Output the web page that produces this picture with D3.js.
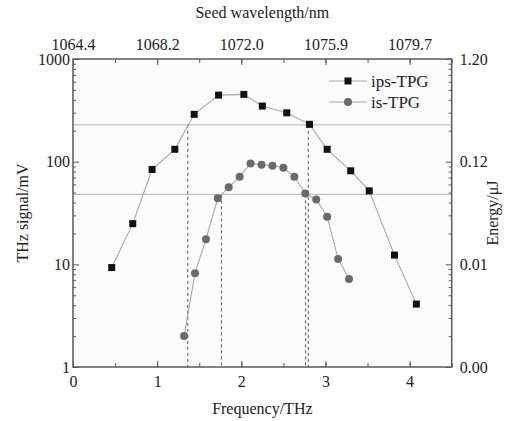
<!DOCTYPE html>
<html>
<head>
<meta charset="utf-8">
<script src="https://cdn.jsdelivr.net/npm/d3@7/dist/d3.min.js"></script>
<style>
  html, body { margin: 0; padding: 0; background: #fff; }
  svg text { font-family: "Liberation Serif", "DejaVu Serif", serif; fill: #222; }
</style>
</head>
<body>
<svg id="chart" width="522" height="421"></svg>
<script>
// ips-TPG: frequency (THz) vs THz signal (mV)
const ipsFreq = [0.46, 0.71, 0.94, 1.21, 1.44, 1.73, 2.03, 2.25, 2.54, 2.81, 3.02, 3.30, 3.52, 3.82, 4.08];
const ipsSignal = [9.3, 24.9, 84, 132, 289, 445, 452, 348, 299, 231, 132, 81.5, 52, 12.3, 4.1];
// is-TPG
const isFreq = [1.32, 1.45, 1.58, 1.72, 1.85, 1.98, 2.11, 2.24, 2.37, 2.50, 2.63, 2.76, 2.89, 3.02, 3.15, 3.28];
const isSignal = [2.0, 8.2, 17.6, 43.9, 56.2, 71.3, 96.2, 93.3, 91.2, 87.2, 71.3, 49.1, 42.9, 29.1, 11.3, 7.2];

// half-maximum levels and the crossing frequencies
const halfMax = [228, 48];
const fwhmMarks = [
  { f: 1.364, level: 228 },
  { f: 1.764, level: 48 },
  { f: 2.764, level: 48 },
  { f: 2.796, level: 228 }
];

const freqTicks = [0, 1, 2, 3, 4];
const wavelengthLabels = ["1064.4", "1068.2", "1072.0", "1075.9", "1079.7"];
const signalTicks = [1, 10, 100, 1000];
const energyLabels = ["0.00", "0.01", "0.12", "1.20"];

(function draw() {
  const FONT = '"Liberation Serif", "DejaVu Serif", serif';
  const svg = d3.select("#chart");

  const x = d3.scaleLinear().domain([0, 4.5]).range([73, 451.7]);
  const y = d3.scaleLog().domain([1, 1000]).range([367, 59]);

  const frameColor = "#5a5a5a";
  const x0 = x.range()[0], x1 = x.range()[1];
  const y0 = y.range()[0], y1 = y.range()[1];

  // plot background
  svg.append("rect").attr("x", x0).attr("y", y1)
    .attr("width", x1 - x0).attr("height", y0 - y1).attr("fill", "#fbfbfb");

  // half-maximum reference lines
  svg.selectAll(".half").data(halfMax).enter().append("line")
    .attr("x1", x0).attr("x2", x1)
    .attr("y1", d => y(d)).attr("y2", d => y(d))
    .attr("stroke", "#b4b4b4").attr("stroke-width", 1);

  // dashed verticals down from each crossing
  svg.selectAll(".fwhm").data(fwhmMarks).enter().append("line")
    .attr("x1", d => x(d.f)).attr("x2", d => x(d.f))
    .attr("y1", d => y(d.level)).attr("y2", y0)
    .attr("stroke", "#555").attr("stroke-width", 1)
    .attr("stroke-dasharray", "3,3");

  // series
  const ips = ipsFreq.map((f, i) => [f, ipsSignal[i]]);
  const is = isFreq.map((f, i) => [f, isSignal[i]]);
  const line = d3.line().x(d => x(d[0])).y(d => y(d[1]));

  svg.append("path").datum(ips).attr("d", line)
    .attr("fill", "none").attr("stroke", "#a8a8a8").attr("stroke-width", 1.1);
  svg.append("path").datum(is).attr("d", line)
    .attr("fill", "none").attr("stroke", "#a8a8a8").attr("stroke-width", 1.1);

  svg.selectAll(".sq").data(ips).enter().append("rect")
    .attr("x", d => x(d[0]) - 3.5).attr("y", d => y(d[1]) - 3.5)
    .attr("width", 7).attr("height", 7).attr("fill", "#111");
  svg.selectAll(".ci").data(is).enter().append("circle")
    .attr("cx", d => x(d[0])).attr("cy", d => y(d[1])).attr("r", 4)
    .attr("fill", "#6a6a6a");

  // axes with inward ticks
  const minorX = d3.range(0, 4.51, 0.5);
  const minorY = [];
  [1, 10, 100].forEach(dec => { for (let k = 2; k <= 9; k++) minorY.push(dec * k); });

  const axes = [
    svg.append("g").attr("transform", `translate(0,${y0})`)
      .call(d3.axisBottom(x).tickValues(minorX).tickSize(-4).tickFormat("")),
    svg.append("g").attr("transform", `translate(0,${y0})`)
      .call(d3.axisBottom(x).tickValues(freqTicks).tickSize(-6).tickPadding(9).tickFormat(d => d)),
    svg.append("g").attr("transform", `translate(0,${y1})`)
      .call(d3.axisTop(x).tickValues(minorX).tickSize(-4).tickFormat("")),
    svg.append("g").attr("transform", `translate(0,${y1})`)
      .call(d3.axisTop(x).tickValues(freqTicks).tickSize(-6).tickPadding(9)
        .tickFormat((d, i) => wavelengthLabels[i])),
    svg.append("g").attr("transform", `translate(${x0},0)`)
      .call(d3.axisLeft(y).tickValues(minorY).tickSize(-3).tickFormat("")),
    svg.append("g").attr("class", "leftMajor").attr("transform", `translate(${x0},0)`)
      .call(d3.axisLeft(y).tickValues(signalTicks).tickSize(-6).tickPadding(3).tickFormat(d => d)),
    svg.append("g").attr("transform", `translate(${x1},0)`)
      .call(d3.axisRight(y).tickValues(minorY).tickSize(-3).tickFormat("")),
    svg.append("g").attr("transform", `translate(${x1},0)`)
      .call(d3.axisRight(y).tickValues(signalTicks).tickSize(-6).tickPadding(8)
        .tickFormat((d, i) => energyLabels[i]))
  ];

  axes.forEach(g => {
    g.attr("font-family", FONT);
    g.select(".domain").remove();
    g.selectAll("line").attr("stroke", frameColor).attr("stroke-width", 1);
    g.selectAll("text").attr("font-size", 16).attr("fill", "#222")
      .attr("font-family", FONT);
  });
  svg.select(".leftMajor").selectAll("text").attr("x", -3);

  // frame
  svg.append("rect").attr("x", x0).attr("y", y1)
    .attr("width", x1 - x0).attr("height", y0 - y1)
    .attr("fill", "none").attr("stroke", frameColor).attr("stroke-width", 1.5);

  // axis titles
  const title = (tx) => svg.append("text").attr("font-family", FONT)
    .attr("font-size", 16).attr("text-anchor", "middle").attr("transform", tx);
  title(`translate(${(x0 + x1) / 2},18)`).text("Seed wavelength/nm");
  title(`translate(${(x0 + x1) / 2},414)`).text("Frequency/THz");
  title(`translate(28,${(y0 + y1) / 2}) rotate(-90)`).text("THz signal/mV");
  title(`translate(498,${(y0 + y1) / 2}) rotate(-90)`).text("Energy/μJ");

  // legend
  const legend = [
    { name: "ips-TPG", shape: "square" },
    { name: "is-TPG", shape: "circle" }
  ];
  const lg = svg.append("g").attr("transform", "translate(329,81)");
  legend.forEach((d, i) => {
    const g = lg.append("g").attr("transform", `translate(0,${i * 21})`);
    g.append("line").attr("x1", 0).attr("x2", 38).attr("y1", 0).attr("y2", 0)
      .attr("stroke", "#a8a8a8").attr("stroke-width", 1.1);
    if (d.shape === "square") {
      g.append("rect").attr("x", 15.5).attr("y", -3.5).attr("width", 7).attr("height", 7).attr("fill", "#111");
    } else {
      g.append("circle").attr("cx", 19).attr("cy", 0).attr("r", 4).attr("fill", "#6a6a6a");
    }
    g.append("text").attr("x", 42).attr("y", 5.5).attr("font-size", 17)
      .attr("font-family", FONT).text(d.name);
  });
})();
</script>
</body>
</html>
